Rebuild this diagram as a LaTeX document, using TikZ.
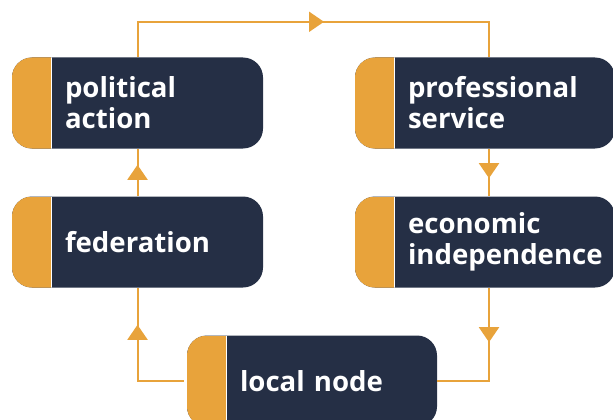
\documentclass[tikz,border=0pt]{standalone}
\usepackage{fontspec}
\setmainfont{Open Sans}
\usetikzlibrary{arrows.meta,decorations.markings}
\definecolor{tabgold}{RGB}{232,163,59}
\definecolor{boxnavy}{RGB}{37,47,69}
\newcommand\stagefont{\bfseries\fontsize{27.6}{31}\selectfont\hyphenpenalty10000\relax}
\tikzset{
  stagebox/.style={fill=boxnavy, text=white, rounded corners=20pt, inner ysep=0pt, inner xsep=53pt,
    minimum height=91pt, align=left, font=\stagefont,
    path picture={
      \fill[tabgold, sharp corners] (path picture bounding box.north west) rectangle ([xshift=39pt]path picture bounding box.south west);
      \draw[white, line width=0.8pt, sharp corners] ([xshift=39.5pt]path picture bounding box.north west) -- ([xshift=39.5pt]path picture bounding box.south west);
    }},
  narrow/.style={stagebox, text width=145pt, minimum width=251pt},
  wide/.style={stagebox, text width=154pt, minimum width=260pt},
  flow/.style={draw=tabgold, line width=2pt},
  midarrow/.style={postaction={decorate}, decoration={markings,
    mark=at position #1 with {\arrow{Triangle[length=15pt,width=20pt]}}}}
}
\begin{document}
\begin{tikzpicture}[x=1pt,y=-1pt]
\useasboundingbox (0,0) rectangle (613,420);

\node[narrow] (pa) at (137.5,103) {political\\action};
\node[wide] (ps) at (485,103) {professional\\service};
\node[narrow] (fe) at (137.5,242) {federation};
\node[wide] (ei) at (485,242) {economic\\independence};
\node[narrow, minimum width=250pt, text width=144pt] (ln) at (312,381) {local node};

\coordinate (rx) at (489,0);

\draw[flow, midarrow=222pt] (pa.north) -- ++(0,-35.5) -| (ps.north -| rx);
\draw[flow, midarrow=31.5pt] (fe.north) -- (pa.south);
\draw[flow, midarrow=29.5pt] (ps.south -| rx) -- (ei.north -| rx);
\draw[flow, midarrow=105.5pt, shorten <=3pt] (ln.west) -| (fe.south);
\draw[flow, midarrow=54.5pt] (ei.south -| rx) |- (ln.east);
\end{tikzpicture}
\end{document}
